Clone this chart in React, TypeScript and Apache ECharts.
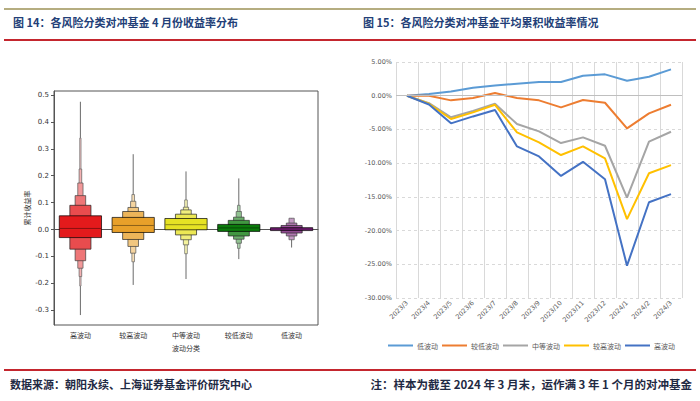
import React, { useEffect, useRef } from "react";
import * as echarts from "echarts";

// ---------- Left chart: letter-value (boxen) plot ----------
const boxCategories = ["高波动", "较高波动", "中等波动", "较低波动", "低波动"];
const boxMedians = [0.004, 0.015, 0.018, 0.006, 0.002];
const levelLows = [
  [-0.03, -0.073, -0.116, -0.144, -0.175, -0.21],
  [-0.011, -0.037, -0.063, -0.088, -0.12],
  [-0.001, -0.02, -0.038, -0.057, -0.09],
  [-0.007, -0.024, -0.036, -0.051, -0.07],
  [-0.004, -0.013, -0.024, -0.038],
];
const levelHighs = [
  [0.051, 0.09, 0.126, 0.173, 0.225, 0.34],
  [0.045, 0.067, 0.082, 0.105, 0.13],
  [0.041, 0.057, 0.073, 0.083, 0.11],
  [0.019, 0.034, 0.046, 0.067, 0.09],
  [0.007, 0.015, 0.024, 0.042],
];
const whiskerMin = [-0.318, -0.206, -0.184, -0.11, -0.067];
const whiskerMax = [0.475, 0.28, 0.216, 0.19, 0.042];
const leftTicks = [-0.3, -0.2, -0.1, 0, 0.1, 0.2, 0.3, 0.4, 0.5];

// ---------- Right chart: cumulative returns ----------
const months = [
  "2023/3", "2023/4", "2023/5", "2023/6", "2023/7", "2023/8", "2023/9",
  "2023/10", "2023/11", "2023/12", "2024/1", "2024/2", "2024/3",
];
const lowVol = [0, 0.25, 0.64, 1.19, 1.53, 1.78, 2.03, 2.03, 2.97, 3.17, 2.23, 2.82, 3.91];
const lowerVol = [0, -0.02, -0.69, -0.35, 0.4, -0.35, -0.69, -1.73, -0.64, -1.04, -4.85, -2.62, -1.34];
const midVol = [0, -1.1, -3.2, -2.27, -1.2, -4.2, -5.29, -7.02, -6.18, -7.42, -15.1, -6.82, -5.34];
const higherVol = [0, -1.2, -3.46, -2.47, -1.35, -5.44, -6.92, -8.8, -7.52, -9.3, -18.3, -11.5, -10.3];
const highVol = [0, -1.3, -4.1, -3.07, -2.13, -7.52, -9.0, -11.9, -9.8, -12.4, -25.2, -15.8, -14.6];
const lineNames = ["低波动", "较低波动", "中等波动", "较高波动", "高波动"];
const lineColors = ["#5B9BD5", "#ED7D31", "#A5A5A5", "#FFC000", "#4472C4"];

const baseColors = ["#E31A1C", "#E8A02A", "#E6E224", "#0B7A0B", "#7B1E7B"];
const lightMix = [0, 0.22, 0.4, 0.55, 0.66, 0.75];

function hexToRgb(h: string) {
  const n = parseInt(h.slice(1), 16);
  return [(n >> 16) & 255, (n >> 8) & 255, n & 255];
}
function mix(h: string, t: number) {
  const [r, g, b] = hexToRgb(h);
  const f = (c: number) => Math.round(c + (255 - c) * t);
  return `rgb(${f(r)},${f(g)},${f(b)})`;
}
function darken(h: string, t: number) {
  const [r, g, b] = hexToRgb(h);
  const f = (c: number) => Math.round(c * (1 - t));
  return `rgb(${f(r)},${f(g)},${f(b)})`;
}

const FONT = "'Noto Sans CJK SC', 'DejaVu Sans', sans-serif";

export default function App() {
  const ref = useRef<HTMLDivElement>(null);
  useEffect(() => {
    if (!ref.current) return;
    const chart = echarts.init(ref.current, undefined, { renderer: "svg" });

    const boxData: number[][] = [];
    boxCategories.forEach((_, ci) => {
      const n = levelLows[ci].length;
      for (let l = n - 1; l >= 0; l--) {
        boxData.push([ci, l, levelLows[ci][l], levelHighs[ci][l]]);
      }
    });
    const whiskerData = boxCategories.map((_, ci) => [ci, whiskerMin[ci], whiskerMax[ci]]);
    const medianData = boxCategories.map((_, ci) => [ci, boxMedians[ci]]);

    const option: any = {
      animation: false,
      textStyle: { fontFamily: FONT },
      graphic: [
        { type: "line", shape: { x1: 4, y1: 9, x2: 696, y2: 9 }, style: { stroke: "#B5AD80", lineWidth: 2 } },
        { type: "line", shape: { x1: 4, y1: 40, x2: 696, y2: 40 }, style: { stroke: "#C4262E", lineWidth: 2 } },
        { type: "line", shape: { x1: 4, y1: 370, x2: 696, y2: 370 }, style: { stroke: "#C4262E", lineWidth: 2 } },
        {
          type: "text", left: 13, top: 16,
          style: { text: "图 14：各风险分类对冲基金 4 月份收益率分布", fill: "#233F78", font: `bold 11px ${FONT}` },
        },
        {
          type: "text", left: 363, top: 16,
          style: { text: "图 15：各风险分类对冲基金平均累积收益率情况", fill: "#233F78", font: `bold 11px ${FONT}` },
        },
        {
          type: "text", left: 10, top: 378,
          style: { text: "数据来源：朝阳永续、上海证券基金评价研究中心", fill: "#1F2A44", font: `bold 11px ${FONT}` },
        },
        {
          type: "text", right: 8, top: 378,
          style: { text: "注：样本为截至 2024 年 3 月末，运作满 3 年 1 个月的对冲基金", fill: "#1F2A44", font: `bold 11.5px ${FONT}` },
        },
      ],
      grid: [
        { left: 54, right: 382, top: 91, bottom: 76, show: true, borderColor: "#555", borderWidth: 1, backgroundColor: "transparent" },
        { left: 396, right: 18, top: 62, bottom: 103 },
      ],
      xAxis: [
        {
          type: "category", gridIndex: 0, data: boxCategories,
          name: "波动分类", nameLocation: "middle", nameGap: 19,
          nameTextStyle: { fontSize: 7, color: "#333", fontFamily: FONT },
          axisLine: { show: true, lineStyle: { color: "#555" } },
          axisTick: { show: true, alignWithLabel: true, length: 3, lineStyle: { color: "#555" } },
          axisLabel: { fontSize: 7, color: "#333", margin: 6, fontFamily: FONT },
          splitLine: { show: false },
        },
        {
          type: "category", gridIndex: 1, data: months, boundaryGap: true,
          axisLine: { show: false },
          axisTick: { show: false },
          axisLabel: { fontSize: 6.5, color: "#595959", rotate: 45, margin: 4, interval: 0, fontFamily: "'DejaVu Sans', sans-serif" },
          splitLine: { show: true, interval: 0, lineStyle: { color: "#D9D9D9", width: 1 } },
        },
      ],
      yAxis: [
        {
          type: "value", gridIndex: 0, min: -0.355, max: 0.515,
          name: "累计收益率", nameLocation: "middle", nameRotate: 90, nameGap: 24,
          nameTextStyle: { fontSize: 7, color: "#333", fontFamily: FONT },
          axisLine: { show: true, lineStyle: { color: "#555" } },
          axisTick: { show: true, length: 3, customValues: leftTicks, lineStyle: { color: "#555" } },
          axisLabel: {
            fontSize: 7, color: "#333", margin: 5, customValues: leftTicks,
            fontFamily: "'DejaVu Sans', sans-serif",
            formatter: (v: number) => (Math.abs(v) < 1e-9 ? "0.0" : v.toFixed(1)),
          },
          splitLine: { show: false },
        },
        {
          type: "value", gridIndex: 1, min: -30, max: 5, interval: 5,
          axisLine: { show: false },
          axisTick: { show: false },
          axisLabel: {
            fontSize: 6.5, color: "#595959", margin: 4, fontFamily: "'DejaVu Sans', sans-serif",
            formatter: (v: number) => v.toFixed(2) + "%",
          },
          splitLine: { show: true, lineStyle: { color: "#D9D9D9", type: [3, 3], width: 1 } },
        },
      ],
      legend: {
        data: lineNames,
        left: 383, top: 337,
        icon: "rect", itemWidth: 25, itemHeight: 2, itemGap: 4,
        textStyle: { fontSize: 7, color: "#595959", fontFamily: FONT, padding: [0, 0, 0, -1] },
      },
      series: [
        {
          type: "custom", xAxisIndex: 0, yAxisIndex: 0, silent: true,
          data: whiskerData, encode: { x: 0, y: [1, 2] },
          renderItem: (params: any, api: any) => {
            const ci = api.value(0);
            const p1 = api.coord([ci, api.value(2)]);
            const p2 = api.coord([ci, api.value(1)]);
            return {
              type: "line",
              shape: { x1: p1[0], y1: p1[1], x2: p2[0], y2: p2[1] },
              style: { stroke: mix(darken(baseColors[ci], 0.3), 0.35), lineWidth: 0.9 },
            };
          },
        },
        {
          type: "custom", xAxisIndex: 0, yAxisIndex: 0, silent: true,
          data: boxData, encode: { x: 0, y: [2, 3] },
          renderItem: (params: any, api: any) => {
            const ci = api.value(0);
            const lvl = api.value(1);
            const p1 = api.coord([ci, api.value(3)]);
            const p2 = api.coord([ci, api.value(2)]);
            const band = api.size([1, 0])[0];
            const w = (band * 0.8) / Math.pow(2, lvl);
            return {
              type: "rect",
              shape: { x: p1[0] - w / 2, y: p1[1], width: w, height: p2[1] - p1[1] },
              style: {
                fill: mix(baseColors[ci], lightMix[lvl] ?? 0.8),
                stroke: mix(darken(baseColors[ci], 0.35), Math.min(0.5, (lightMix[lvl] ?? 0.8) * 0.6)),
                lineWidth: 0.7,
              },
            };
          },
        },
        {
          type: "custom", xAxisIndex: 0, yAxisIndex: 0, silent: true,
          data: medianData, encode: { x: 0, y: 1 },
          renderItem: (params: any, api: any) => {
            const ci = api.value(0);
            const p = api.coord([ci, api.value(1)]);
            const band = api.size([1, 0])[0];
            const w = band * 0.8;
            return {
              type: "line",
              shape: { x1: p[0] - w / 2, y1: p[1], x2: p[0] + w / 2, y2: p[1] },
              style: { stroke: darken(baseColors[ci], 0.4), lineWidth: 1 },
            };
          },
        },
        ...[lowVol, lowerVol, midVol, higherVol, highVol].map((d, i) => ({
          type: "line",
          name: lineNames[i],
          xAxisIndex: 1, yAxisIndex: 1,
          data: d,
          showSymbol: false, symbol: "none",
          lineStyle: { color: lineColors[i], width: 2 },
          itemStyle: { color: lineColors[i] },
          z: 3,
          markLine: i === 0 ? {
            silent: true, symbol: "none", label: { show: false },
            lineStyle: { color: "#BFBFBF", type: "solid", width: 1 },
            data: [{ yAxis: 0 }],
          } : undefined,
        })),
      ],
    };
    chart.setOption(option);
    return () => chart.dispose();
  }, []);
  return (
    <div
      ref={ref}
      style={{ position: "fixed", left: 0, top: 0, width: 700, height: 401, background: "#fff" }}
    />
  );
}
